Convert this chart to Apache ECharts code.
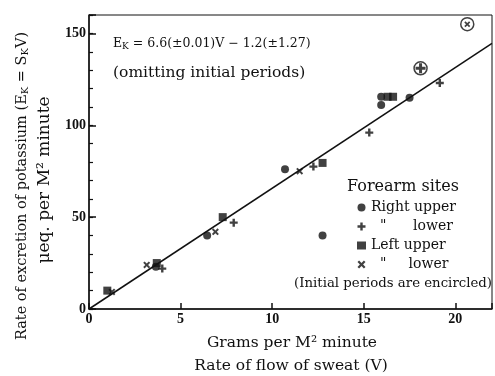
<!DOCTYPE html>
<html>
<head>
    <meta charset="UTF-8">
    <title>Potassium excretion vs sweat rate</title>
    <script type="text/javascript" src="https://cdn.jsdelivr.net/npm/echarts@6/dist/echarts.min.js"></script>
    <style type="text/css">
        html, body { margin: 0; padding: 0; background: #fff; }
        #chart { width: 495px; height: 376px; }
    </style>
</head>
<body>
    <div id="chart"></div>
    <script>
    // values: [V, E_K]
    var rightUpper = [[3.65, 23], [6.45, 40], [10.7, 76], [12.75, 40], [15.95, 111], [15.95, 115.5], [17.5, 115]];
    var rightLower = [[4.0, 22], [7.9, 47], [12.25, 77.5], [15.3, 96], [19.15, 123]];
    var leftUpper = [[1.0, 10], [3.7, 25], [7.3, 50], [12.75, 79.5], [16.3, 115.5], [16.6, 115.5]];
    var leftLower = [[1.25, 9.3], [3.15, 24], [6.9, 42], [11.5, 75]];
    var rightLowerInitial = [[18.1, 131]];
    var leftLowerInitial = [[20.65, 155]];
    var fitLine = [[0, 0], [22, 144.5]];
    var xTicks = [0, 5, 10, 15, 20];
    var yTicks = [0, 50, 100, 150];

    var plusPath = 'path://M3.5,0H6.5V3.5H10V6.5H6.5V10H3.5V6.5H0V3.5H3.5Z';
    var crossPath = 'path://M0,2L2,0L5,3L8,0L10,2L7,5L10,8L8,10L5,7L2,10L0,8L3,5Z';
    var ink = '#111';
    var font = 'DejaVu Serif';

    var myChart = echarts.init(document.getElementById('chart'));

    var legendNames = {
        'Right upper': 'Right upper',
        'Right lower': '  "      lower',
        'Left upper': 'Left upper',
        'Left lower': '  "     lower'
    };

    function txt(size, s) {
        return { text: s, font: size + 'px "DejaVu Serif"', fill: ink };
    }

    option = {
        animation: false,
        backgroundColor: '#fff',
        grid: {
            left: 89, right: 2, top: 15, bottom: 67,
            show: true, borderColor: ink, borderWidth: 1
        },
        xAxis: {
            type: 'value', min: 0, max: 22, interval: 5,
            axisLine: { lineStyle: { color: ink, width: 1.5 } },
            axisTick: { inside: true, length: 6, lineStyle: { color: ink, width: 1.5 } },
            axisLabel: {
                color: ink, fontFamily: 'Liberation Serif', fontWeight: 'bold', fontSize: 14, margin: 3,
                formatter: function (v) { return xTicks.indexOf(v) >= 0 ? v : ''; }
            },
            splitLine: { show: false }
        },
        yAxis: [{
            type: 'value', min: 0, max: 160, interval: 10,
            axisLine: { show: true, lineStyle: { color: ink, width: 1.5 } },
            axisTick: { inside: true, length: 4, lineStyle: { color: ink, width: 1.2 } },
            axisLabel: {
                color: ink, fontFamily: 'Liberation Serif', fontWeight: 'bold', fontSize: 14, margin: 3,
                formatter: function (v) { return yTicks.indexOf(v) >= 0 ? v : ''; }
            },
            splitLine: { show: false }
        }, {
            type: 'value', min: 0, max: 160, interval: 50, position: 'left',
            axisLine: { show: false },
            axisTick: { show: true, inside: true, length: 7, lineStyle: { color: ink, width: 1.5 } },
            axisLabel: { show: false },
            splitLine: { show: false }
        }],
        legend: {
            orient: 'vertical',
            left: 357, top: 200,
            padding: 0,
            itemWidth: 9, itemHeight: 8, itemGap: 4,
            selectedMode: false,
            data: ['Right upper', 'Right lower', 'Left upper', 'Left lower'],
            formatter: function (name) { return legendNames[name]; },
            textStyle: { color: ink, fontFamily: font, fontSize: 14, lineHeight: 15 }
        },
        graphic: [{
            type: 'text', left: 113, top: 37,
            style: {
                text: '{a|E}{s|K}{a| = 6.6(±0.01)V − 1.2(±1.27)}',
                rich: {
                    a: { fontFamily: font, fontSize: 12.5, fill: ink },
                    s: { fontFamily: font, fontSize: 9, fill: ink, padding: [7, 0, 0, 0] }
                }
            }
        }, {
            type: 'text', left: 113, top: 65,
            style: txt(15.5, '(omitting initial periods)')
        }, {
            type: 'text', x: 403, y: 187,
            style: Object.assign(txt(16, 'Forearm sites'), { textAlign: 'center', textVerticalAlign: 'middle' })
        }, {
            type: 'text', x: 492, y: 284,
            style: Object.assign(txt(13.3, '(Initial periods are encircled)'), { textAlign: 'right', textVerticalAlign: 'middle' })
        }, {
            type: 'text', x: 292, y: 343,
            style: Object.assign(txt(15.5, 'Grams per M² minute'), { textAlign: 'center', textVerticalAlign: 'middle' })
        }, {
            type: 'text', x: 291, y: 366,
            style: Object.assign(txt(15.5, 'Rate of flow of sweat (V)'), { textAlign: 'center', textVerticalAlign: 'middle' })
        }, {
            type: 'text', x: 22, y: 186, rotation: Math.PI / 2,
            style: {
                text: '{a|Rate of excretion of potassium (E}{s|K}{a| = S}{s|K}{a|V)}',
                textAlign: 'center', textVerticalAlign: 'middle',
                rich: {
                    a: { fontFamily: font, fontSize: 14.5, fill: ink },
                    s: { fontFamily: font, fontSize: 10, fill: ink, padding: [7, 0, 0, 0] }
                }
            }
        }, {
            type: 'text', x: 45, y: 180, rotation: Math.PI / 2,
            style: Object.assign(txt(17, 'μeq. per M² minute'), { textAlign: 'center', textVerticalAlign: 'middle' })
        }],
        series: [{
            name: 'fit', type: 'line', data: fitLine, symbol: 'none', silent: true,
            lineStyle: { color: ink, width: 1.5 }, z: 1
        }, {
            name: 'Right upper', type: 'scatter', data: rightUpper,
            symbol: 'circle', symbolSize: 8, itemStyle: { color: ink }
        }, {
            name: 'Right lower', type: 'scatter', data: rightLower,
            symbol: plusPath, symbolSize: 8, itemStyle: { color: ink }
        }, {
            name: 'Left upper', type: 'scatter', data: leftUpper,
            symbol: 'rect', symbolSize: 8, itemStyle: { color: ink }
        }, {
            name: 'Left lower', type: 'scatter', data: leftLower,
            symbol: crossPath, symbolSize: 7, itemStyle: { color: ink }
        }, {
            name: 'Right lower initial', type: 'scatter', data: rightLowerInitial,
            symbol: plusPath, symbolSize: 10, itemStyle: { color: ink }
        }, {
            name: 'Left lower initial', type: 'scatter', data: leftLowerInitial,
            symbol: crossPath, symbolSize: 6, itemStyle: { color: ink }
        }, {
            name: 'ring1', type: 'scatter', data: rightLowerInitial,
            symbol: 'circle', symbolSize: 13,
            itemStyle: { color: 'rgba(0,0,0,0)', borderColor: ink, borderWidth: 1.5 }
        }, {
            name: 'ring2', type: 'scatter', data: leftLowerInitial,
            symbol: 'circle', symbolSize: 13,
            itemStyle: { color: 'rgba(0,0,0,0)', borderColor: ink, borderWidth: 1.5 }
        }]
    };

    myChart.setOption(option);
    </script>
</body>
</html>
